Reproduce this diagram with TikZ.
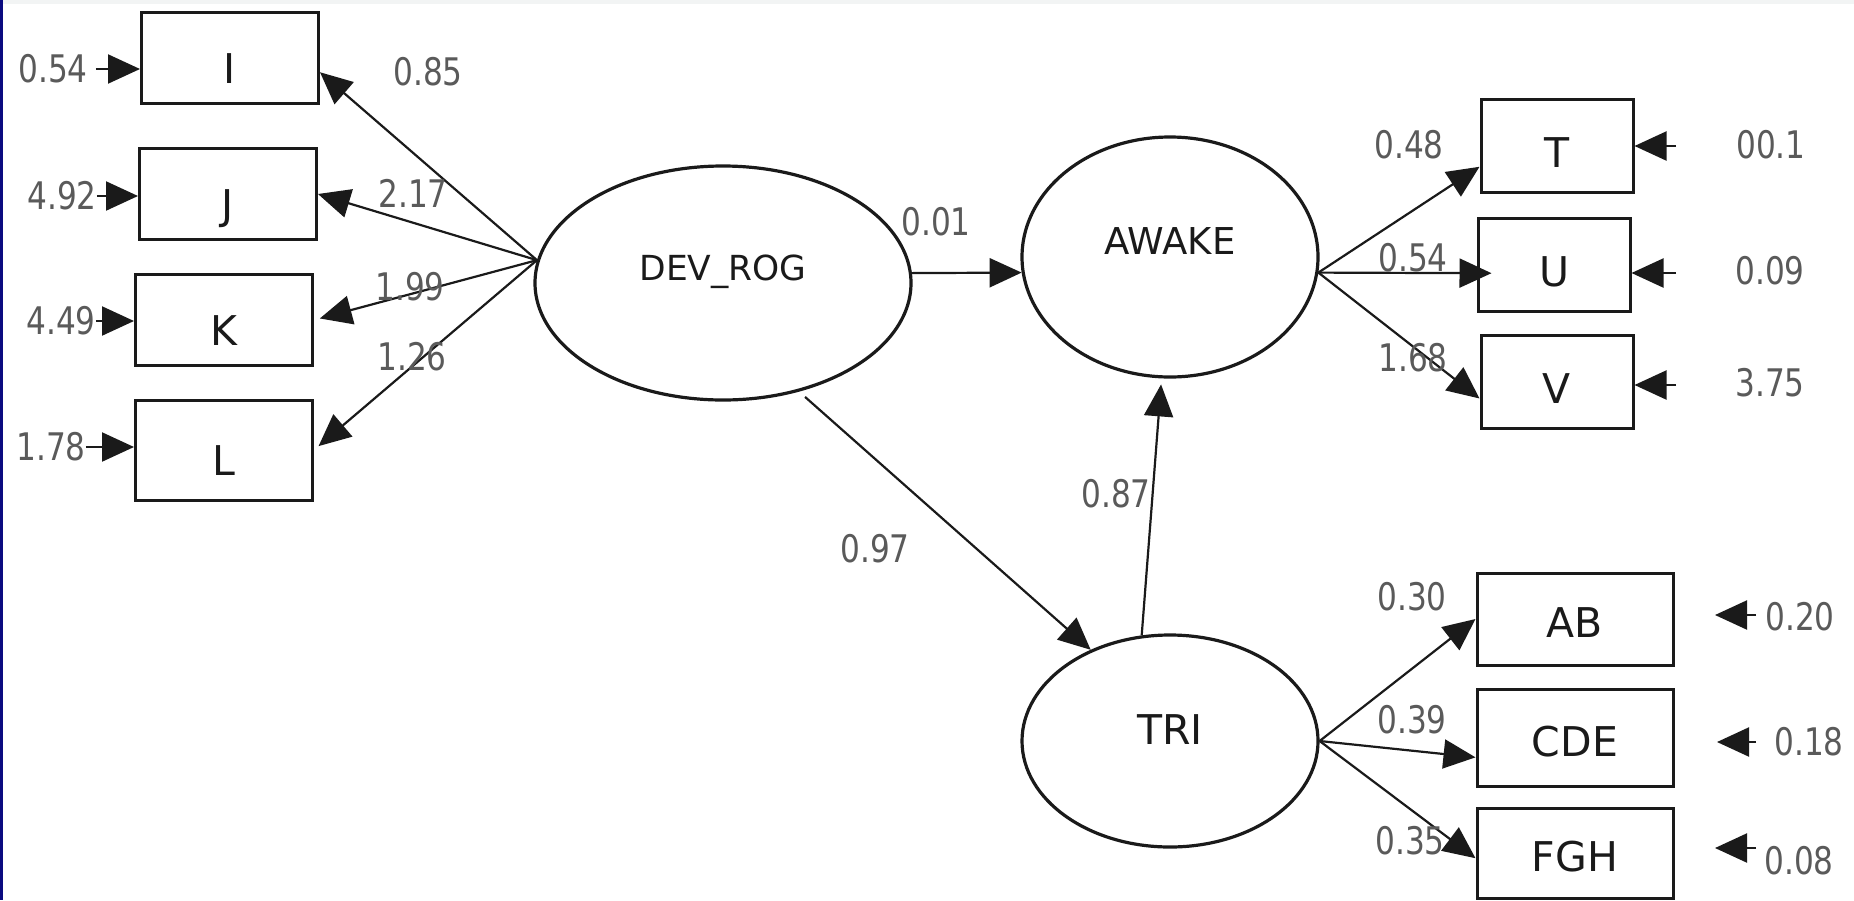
\documentclass[tikz,border=0pt]{standalone}
\usepackage{fontspec}
\setmainfont{DejaVu Sans}
\newfontfamily\numfont[FakeStretch=0.82]{DejaVu Sans}
\usetikzlibrary{arrows.meta,shapes.geometric}
\definecolor{ink}{HTML}{1A1A1A}
\definecolor{numgray}{HTML}{5A5A5A}
\definecolor{edgenavy}{HTML}{0A0A80}
\definecolor{stripgray}{HTML}{F2F4F4}

\begin{document}
\begin{tikzpicture}[x=1pt, y=-1pt,
    obs/.style={draw=ink, line width=3pt, minimum width=177pt, minimum height=91pt, inner sep=0pt, font=\fontsize{41}{41}\selectfont, text=ink, text height=50pt, text depth=0pt},
    obsr/.style={obs, minimum width=152pt, minimum height=93pt, text height=42pt},
    obsw/.style={obs, minimum width=196pt, minimum height=92pt, text height=36pt},
    latent/.style={ellipse, draw=ink, line width=3.2pt, inner sep=0pt, text=ink},
    num/.style={font=\numfont\fontsize{38}{38}\selectfont, text=numgray, inner sep=0pt},
    arrow/.style={-{Triangle[length=32pt,width=29pt]}, line width=2.2pt, color=ink}
]
\useasboundingbox (0,0) rectangle (1854,900);
\fill[stripgray] (0,0) rectangle (1854,4);
\fill[edgenavy] (0,0) rectangle (3,900);

% Latent variables
\node[latent, minimum width=376pt, minimum height=234pt, font=\fontsize{34.5}{34.5}\selectfont, text height=0pt, text depth=5pt] (dev) at (723,283) {DEV\_ROG};
\node[latent, minimum width=296pt, minimum height=240pt, font=\fontsize{37}{37}\selectfont, text height=0pt, text depth=5pt] (awake) at (1170,257) {AWAKE};
\node[latent, minimum width=296pt, minimum height=212pt, font=\fontsize{41}{41}\selectfont, text height=6pt, text depth=0pt] (tri) at (1170,741) {TRI};

% Indicators of DEV_ROG
\node[obs] (I) at (230,58) {I};
\node[obs] (J) at (228,194) {J};
\node[obs] (K) at (224,320) {K};
\node[obs, minimum height=100pt] (L) at (224,450) {L};

\node[num] (eI) at (53,69) {0.54};
\node[num] (eJ) at (62,196) {4.92};
\node[num] (eK) at (61,321) {4.49};
\node[num] (eL) at (51,447) {1.78};

% Indicators of AWAKE
\node[obsr] (T) at (1557,146) {T};
\node[obsr] (U) at (1554,265) {U};
\node[obsr] (V) at (1557,382) {V};

\node[num] (eT) at (1771,145) {00.1};
\node[num] (eU) at (1770,271) {0.09};
\node[num] (eV) at (1770,383) {3.75};
\coordinate (tT) at (1676,146);
\coordinate (tU) at (1676,273);
\coordinate (tV) at (1676,385);

% Indicators of TRI
\node[obsw] (AB) at (1575,619) {AB};
\node[obsw, minimum height=97pt] (CDE) at (1575,738) {CDE};
\node[obsw, minimum height=90pt] (FGH) at (1575,853) {FGH};

\node[num] (eAB) at (1800,617) {0.20};
\node[num] (eCDE) at (1809,742) {0.18};
\node[num] (eFGH) at (1799,861) {0.08};
\coordinate (sAB) at (1756,615);
\coordinate (hAB) at (1715,615);
\coordinate (sCDE) at (1756,742);
\coordinate (hCDE) at (1717,742);
\coordinate (sFGH) at (1756,848);
\coordinate (hFGH) at (1715,848);

% Error arrows
\draw[arrow, shorten <=8pt] (eI.east) -- (eI.east -| I.west);
\draw[arrow] (eJ.east) -- (eJ.east -| J.west);
\draw[arrow] (eK.east) -- (eK.east -| K.west);
\draw[arrow] (eL.east) -- (eL.east -| L.west);
\draw[arrow] (tT) -- (tT -| T.east);
\draw[arrow] (tU) -- (tU -| U.east);
\draw[arrow] (tV) -- (tV -| V.east);
\draw[arrow] (sAB) -- (hAB);
\draw[arrow] (sCDE) -- (hCDE);
\draw[arrow] (sFGH) -- (hFGH);

% Loadings
\draw[arrow] (dev.173) -- (I.-9);
\draw[arrow] (dev.173) -- (J.east);
\draw[arrow, shorten >=6pt] (dev.173) -- (K.east);
\draw[arrow, shorten >=6pt] (dev.173) -- (L.east);
\node[num] (lI) at (428,72) {0.85};
\node[num] (lJ) at (413,193) {2.17};
\node[num] (lK) at (410,287) {1.99};
\node[num] (lL) at (412,357) {1.26};

\draw[arrow] (awake.-6) -- (T.195);
\draw[arrow, shorten >=-15pt] (awake.-6) -- (U.186);
\draw[arrow] (awake.-6) -- (V.192);
\node[num] (lT) at (1409,145) {0.48};
\node[num] (lU) at (1413,258) {0.54};
\node[num] (lV) at (1413,358) {1.68};

\draw[arrow] (tri.east) -- (AB.west);
\draw[arrow] (tri.east) -- (CDE.191);
\draw[arrow] (tri.east) -- (FGH.183);
\node[num] (lAB) at (1412,597) {0.30};
\node[num] (lCDE) at (1412,720) {0.39};
\node[num] (lFGH) at (1410,841) {0.35};

% Structural paths
\draw[arrow] (dev.3) -- (awake.186);
\draw[arrow, shorten <=8pt] (dev.-55) -- (tri.131);
\draw[arrow, shorten >=6pt] (tri.105) -- (awake.-94);
\node[num] (pDA) at (936,222) {0.01};
\node[num] (pDT) at (875,549) {0.97};
\node[num] (pTA) at (1116,494) {0.87};

\end{tikzpicture}
\end{document}
